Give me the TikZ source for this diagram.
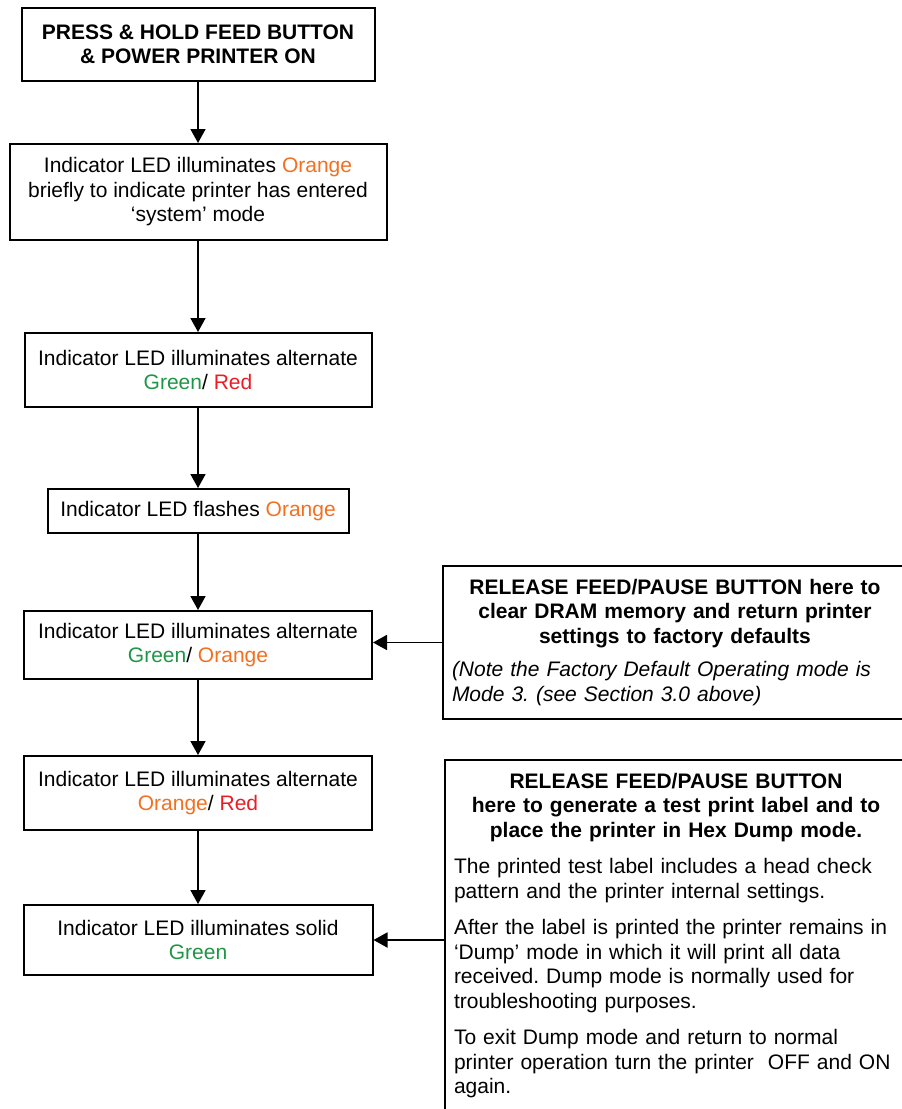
\documentclass[tikz,border=0pt]{standalone}
\usepackage{fontspec}
\setmainfont{Liberation Sans}
\usepackage{color}
\usepackage{tikz}
\usetikzlibrary{shapes,arrows.meta,positioning}
\setlength{\parindent}{0pt}
\frenchspacing
\definecolor{ledorange}{RGB}{243,112,33}
\definecolor{ledgreen}{RGB}{30,150,70}
\definecolor{ledred}{RGB}{237,28,36}

\begin{document}
\begin{tikzpicture}[x=1pt,y=-1pt,
	every node/.style={font=\fontsize{21}{24.5}\selectfont},
	stepbox/.style={draw, line width=2pt, align=center, inner sep=0pt},
	notebox/.style={draw, line width=2pt, inner sep=0pt},
	arr/.style={-{Triangle[length=14pt,width=15pt]}, line width=1.8pt}]
	\useasboundingbox (0,0) rectangle (902,1109);
	\clip (0,0) rectangle (902,1109);

	% left column
	\node[stepbox, minimum width=353pt, minimum height=73pt, font=\fontsize{21}{24.5}\selectfont\bfseries] (press) at (198,44.5) {PRESS \& HOLD FEED BUTTON\\ \& POWER PRINTER ON};
	\node[stepbox, minimum width=377pt, minimum height=96pt] (system) at (198,192) {Indicator LED illuminates \textcolor{ledorange}{Orange}\\ briefly to indicate printer has entered\\ `system' mode};
	\node[stepbox, minimum width=347pt, minimum height=74pt] (greenred) at (198,370) {Indicator LED illuminates alternate\\ \textcolor{ledgreen}{Green}/ \textcolor{ledred}{Red}};
	\node[stepbox, minimum width=301pt, minimum height=44pt] (flash) at (198,511) {Indicator LED flashes \textcolor{ledorange}{Orange}};
	\node[stepbox, minimum width=348pt, minimum height=68pt] (greenorange) at (198,645) {Indicator LED illuminates alternate\\ \textcolor{ledgreen}{Green}/ \textcolor{ledorange}{Orange}};
	\node[stepbox, minimum width=348pt, minimum height=74pt] (orangered) at (198,793) {Indicator LED illuminates alternate\\ \textcolor{ledorange}{Orange}/ \textcolor{ledred}{Red}};
	\node[stepbox, minimum width=349pt, minimum height=70pt] (solid) at (198,940) {Indicator LED illuminates solid\\ \textcolor{ledgreen}{Green}};

	% right column
	\node[notebox, minimum width=464pt, minimum height=153pt, text width=446pt, align=left] (factory) at (675,642.5) {{\centering\bfseries RELEASE FEED/PAUSE BUTTON here to\\ clear DRAM memory and return printer\\ settings to factory defaults\par}\vspace{9pt}\itshape (Note the Factory Default Operating mode is\\ Mode 3. (see Section 3.0 above)};
	\node[notebox, minimum width=462pt, minimum height=380pt] (hexdump) at (676,950) {};
	\node[anchor=north, inner sep=0pt, text width=444pt, align=left] (hexdumptext) at ([yshift=-14pt]hexdump.north) {{\centering\bfseries RELEASE FEED/PAUSE BUTTON\\ here to generate a test print label and to\\ place the printer in Hex Dump mode.\par}\vspace{12pt}
	The printed test label includes a head check\\ pattern and the printer internal settings.\par\vspace{12pt}
	After the label is printed the printer remains in\\ `Dump' mode in which it will print all data\\ received. Dump mode is normally used for\\ troubleshooting purposes.\par\vspace{12pt}
	To exit Dump mode and return to normal\\ printer operation turn the printer\ \ OFF and ON\\ again.};

	\path [arr] (press) edge (system);
	\path [arr] (system) edge (greenred);
	\path [arr] (greenred) edge (flash);
	\path [arr] (flash) edge (greenorange);
	\path [arr] (greenorange) edge (orangered);
	\path [arr] (orangered) edge (solid);
	\draw [arr] (factory.west) -- (factory.west -| greenorange.east);
	\draw [arr] (hexdump.west |- solid.east) -- (solid.east);
\end{tikzpicture}
\end{document}
